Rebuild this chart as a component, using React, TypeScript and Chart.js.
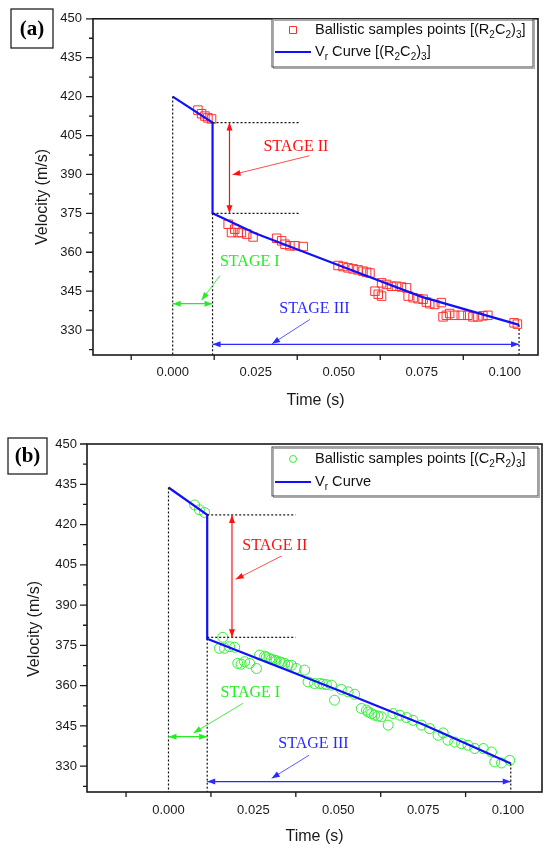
import React, { useEffect, useRef } from "react";
import { Chart, registerables } from "chart.js";

Chart.register(...registerables);

const SANS = "'Liberation Sans', Arial, sans-serif";
const SERIF = "'Liberation Serif', 'Times New Roman', serif";

// axis ticks shared by both panels
const timeTicks = [0, 0.025, 0.05, 0.075, 0.1];
const timeMinorTicks = [-0.0125, 0.0125, 0.0375, 0.0625, 0.0875];
const velocityTicks = [330, 345, 360, 375, 390, 405, 420, 435, 450];
const velocityMinorTicks = [322.5, 337.5, 352.5, 367.5, 382.5, 397.5, 412.5, 427.5, 442.5];
const TIME_MIN = -0.024;
const TIME_MAX = 0.11;
const VEL_MIN = 320.4;
const VEL_MAX = 450;

// (a) (R2C2)3 samples
const samplesTimeA = [
  0.0076, 0.0087, 0.0097, 0.0106, 0.0117, 0.0167, 0.0177, 0.0187, 0.0197, 0.0207,
  0.0223, 0.0242, 0.0313, 0.0328, 0.0338, 0.0353, 0.0368, 0.0393, 0.0498, 0.0513,
  0.0528, 0.0543, 0.0558, 0.0573, 0.0584, 0.0594, 0.0609, 0.0619, 0.0629, 0.0629,
  0.0644, 0.0659, 0.0674, 0.0689, 0.0704, 0.0709, 0.0724, 0.0739, 0.0754, 0.0764,
  0.0774, 0.0789, 0.0809, 0.0814, 0.0824, 0.0834, 0.0849, 0.0869, 0.0889, 0.0904,
  0.0919, 0.0934, 0.0949, 0.1028, 0.1038,
];
const samplesVelA = [
  414.8, 413.4, 412.5, 411.8, 411.4, 370.8, 367.6, 368.9, 367.6, 367.6,
  367.0, 365.9, 365.4, 364.4, 363.1, 362.5, 362.5, 362.2, 354.9, 354.5,
  354.0, 353.6, 353.2, 352.7, 352.3, 352.0, 345.0, 343.8, 343.1, 348.2,
  347.6, 346.9, 346.9, 346.6, 346.3, 343.1, 342.5, 342.1, 341.9, 340.8,
  340.2, 339.9, 340.6, 335.1, 335.7, 336.4, 335.7, 335.7, 335.7, 335.1,
  335.1, 335.5, 335.7, 332.8, 332.3,
];
const curveTimeA = [0, 0.012, 0.012, 0.025, 0.05, 0.075, 0.1043];
const curveVelA = [420, 410, 375, 367.2, 355, 342.8, 332];

// (b) (C2R2)3 samples
const samplesTimeB = [
  0.0077, 0.0091, 0.0106, 0.015, 0.016, 0.0165, 0.018, 0.0195, 0.0204, 0.0214,
  0.0224, 0.0239, 0.0259, 0.0268, 0.0283, 0.0288, 0.0298, 0.0303, 0.0312, 0.0317,
  0.0327, 0.0332, 0.0342, 0.0352, 0.0362, 0.0376, 0.0401, 0.0411, 0.043, 0.0445,
  0.0455, 0.0465, 0.048, 0.0489, 0.0509, 0.0529, 0.0548, 0.0568, 0.0583, 0.0588,
  0.0598, 0.0607, 0.0617, 0.0627, 0.0647, 0.0661, 0.0681, 0.0701, 0.072, 0.0745,
  0.0769, 0.0794, 0.0809, 0.0823, 0.0843, 0.0863, 0.0882, 0.0902, 0.0927, 0.0951,
  0.0961, 0.0981, 0.1005,
];
const samplesVelB = [
  427.3, 425.5, 424.5, 373.9, 378.0, 373.9, 374.5, 374.3, 368.3, 368.0,
  368.9, 368.3, 366.4, 371.4, 371.0, 370.6, 370.1, 369.8, 369.5, 369.3,
  368.9, 368.6, 368.3, 367.6, 367.6, 366.4, 365.8, 361.4, 360.8, 360.8,
  360.6, 360.4, 360.2, 354.6, 358.6, 357.7, 356.8, 351.5, 350.9, 350.2,
  349.6, 349.0, 348.7, 348.4, 345.3, 349.6, 349.0, 348.1, 347.1, 345.3,
  344.0, 341.5, 342.4, 339.7, 339.0, 338.4, 337.8, 336.6, 336.6, 335.3,
  331.6, 331.2, 332.2,
];
const curveTimeB = [0, 0.0114, 0.0114, 0.05, 0.075, 0.1008];
const curveVelB = [433.8, 423.6, 377.5, 358.3, 345.5, 331];

// guide lines, arrows and stage labels in data coordinates [t1, v1, t2, v2]
const guidesA = [
  [0, 420, 0, VEL_MIN],
  [0.012, 375, 0.012, VEL_MIN],
  [0.012, 410, 0.0383, 410],
  [0.012, 375, 0.0383, 375],
  [0.1043, 332, 0.1043, VEL_MIN],
];
const spansA = [
  [0.0171, 410, 0.0171, 375],
  [0, 340.2, 0.012, 340.2],
  [0.012, 324.5, 0.1043, 324.5],
];
const pointersA = [
  [0.0411, 397.2, 0.018, 389.9],
  [0.0142, 351.0, 0.0087, 341.5],
  [0.0413, 334.1, 0.0299, 324.7],
];
const stageTextA = [
  [0.0371, 400.7],
  [0.0232, 356.4],
  [0.0427, 338.3],
];

const guidesB = [
  [0, 433.8, 0, VEL_MIN],
  [0.0114, 377.5, 0.0114, VEL_MIN],
  [0.0114, 423.6, 0.0374, 423.6],
  [0.0114, 378, 0.0374, 378],
  [0.1008, 331, 0.1008, VEL_MIN],
];
const spansB = [
  [0.0187, 423.6, 0.0187, 378],
  [0, 341, 0.0114, 341],
  [0.0114, 324.3, 0.1008, 324.3],
];
const pointersB = [
  [0.0333, 408.3, 0.0198, 399.6],
  [0.0219, 353.4, 0.0074, 342.4],
  [0.0414, 334.1, 0.0304, 325.5],
];
const stageTextB = [
  [0.0313, 412.1],
  [0.0241, 357.5],
  [0.0427, 338.2],
];

const stageNames = ["STAGE II", "STAGE I", "STAGE III"];
const stageColors = ["#ff1010", "#22ee22", "#2a2aff"];
const pointerColors = ["#ff5050", "#44ee44", "#5a5aff"];

// "_x" marks a subscript character
const legendA = ["Ballistic samples points [(R_2C_2)_3]", "V_r Curve [(R_2C_2)_3]"];
const legendB = ["Ballistic samples points [(C_2R_2)_3]", "V_r Curve"];

type Quad = number[];

interface PanelConfig {
  tag: string;
  height: number;
  area: { left: number; top: number; right: number; bottom: number };
  yLabelPad: number;
  xLabelPad: number;
  yTitlePos: [number, number];
  xTitlePad: number;
  tagBox: [number, number, number, number];
  legendBox: [number, number, number, number];
  legendRows: [number, number];
  legendText: string[];
  marker: "rect" | "circle";
  markerColor: string;
  markerRadius: number;
  samplesT: number[];
  samplesV: number[];
  curveT: number[];
  curveV: number[];
  guides: Quad[];
  spans: Quad[];
  pointers: Quad[];
  stageText: Quad[];
}

const drawHead = (ctx: CanvasRenderingContext2D, x1: number, y1: number, x2: number, y2: number) => {
  const a = Math.atan2(y2 - y1, x2 - x1);
  const len = 8;
  const half = 3;
  const bx = x2 - len * Math.cos(a);
  const by = y2 - len * Math.sin(a);
  ctx.beginPath();
  ctx.moveTo(x2, y2);
  ctx.lineTo(bx + half * Math.sin(a), by - half * Math.cos(a));
  ctx.lineTo(bx - half * Math.sin(a), by + half * Math.cos(a));
  ctx.closePath();
  ctx.fill();
};

const drawRich = (ctx: CanvasRenderingContext2D, text: string, x: number, y: number, size: number) => {
  let cx = x;
  let buf = "";
  const flush = () => {
    if (!buf) return;
    ctx.font = `${size}px ${SANS}`;
    ctx.fillText(buf, cx, y);
    cx += ctx.measureText(buf).width;
    buf = "";
  };
  for (let i = 0; i < text.length; i++) {
    if (text[i] === "_" && i + 1 < text.length) {
      flush();
      const ch = text[i + 1];
      ctx.font = `${Math.round(size * 0.66)}px ${SANS}`;
      ctx.fillText(ch, cx, y + size * 0.36);
      cx += ctx.measureText(ch).width;
      i++;
    } else {
      buf += text[i];
    }
  }
  flush();
};

const Panel: React.FC<{ cfg: PanelConfig }> = ({ cfg }) => {
  const canvasRef = useRef<HTMLCanvasElement | null>(null);
  const chartRef = useRef<Chart | null>(null);

  useEffect(() => {
    const ctx = canvasRef.current?.getContext("2d");
    if (!ctx) return;
    if (chartRef.current) chartRef.current.destroy();

    const overlay = {
      id: "overlay",
      afterDatasetsDraw(chart: any) {
        const c: CanvasRenderingContext2D = chart.ctx;
        const sx = chart.scales.x;
        const sy = chart.scales.y;
        const px = (t: number) => sx.getPixelForValue(t);
        const py = (v: number) => sy.getPixelForValue(v);
        c.save();

        // dotted guides
        c.strokeStyle = "#111";
        c.lineWidth = 1.2;
        c.setLineDash([2, 2]);
        cfg.guides.forEach((g) => {
          c.beginPath();
          c.moveTo(px(g[0]), py(g[1]));
          c.lineTo(px(g[2]), py(g[3]));
          c.stroke();
        });
        c.setLineDash([]);

        // double-headed stage spans
        cfg.spans.forEach((s, i) => {
          const x1 = px(s[0]), y1 = py(s[1]), x2 = px(s[2]), y2 = py(s[3]);
          c.strokeStyle = stageColors[i];
          c.fillStyle = stageColors[i];
          c.lineWidth = 1.2;
          c.beginPath();
          c.moveTo(x1, y1);
          c.lineTo(x2, y2);
          c.stroke();
          drawHead(c, x1, y1, x2, y2);
          drawHead(c, x2, y2, x1, y1);
        });

        // pointers from labels
        cfg.pointers.forEach((p, i) => {
          const x1 = px(p[0]), y1 = py(p[1]), x2 = px(p[2]), y2 = py(p[3]);
          c.strokeStyle = pointerColors[i];
          c.fillStyle = stageColors[i];
          c.lineWidth = 1;
          c.beginPath();
          c.moveTo(x1, y1);
          c.lineTo(x2, y2);
          c.stroke();
          drawHead(c, x1, y1, x2, y2);
        });

        // stage labels
        c.font = `16px ${SERIF}`;
        c.textAlign = "center";
        c.textBaseline = "middle";
        cfg.stageText.forEach((s, i) => {
          c.fillStyle = stageColors[i];
          c.fillText(stageNames[i], px(s[0]), py(s[1]));
        });
        c.restore();
      },
      afterDraw(chart: any) {
        const c: CanvasRenderingContext2D = chart.ctx;
        const a = chart.chartArea;
        const sx = chart.scales.x;
        const sy = chart.scales.y;
        c.save();

        // frame
        c.strokeStyle = "#1a1a1a";
        c.lineWidth = 1.6;
        c.strokeRect(a.left, a.top, a.right - a.left, a.bottom - a.top);

        // outward ticks
        c.lineWidth = 1.3;
        c.beginPath();
        velocityTicks.forEach((v) => {
          const y = sy.getPixelForValue(v);
          c.moveTo(a.left, y);
          c.lineTo(a.left - 7, y);
        });
        velocityMinorTicks.forEach((v) => {
          const y = sy.getPixelForValue(v);
          c.moveTo(a.left, y);
          c.lineTo(a.left - 4, y);
        });
        timeMinorTicks.forEach((t) => {
          const x = sx.getPixelForValue(t);
          c.moveTo(x, a.bottom);
          c.lineTo(x, a.bottom + 5);
        });
        c.stroke();

        // y axis title
        c.save();
        c.translate(cfg.yTitlePos[0], cfg.yTitlePos[1]);
        c.rotate(-Math.PI / 2);
        c.fillStyle = "#1a1a1a";
        c.font = `16px ${SANS}`;
        c.textAlign = "center";
        c.textBaseline = "middle";
        c.fillText("Velocity (m/s)", 0, 0);
        c.restore();

        // panel tag
        const [tx, ty, tw, th] = cfg.tagBox;
        c.fillStyle = "#fff";
        c.fillRect(tx, ty, tw, th);
        c.strokeStyle = "#222";
        c.lineWidth = 1.3;
        c.strokeRect(tx, ty, tw, th);
        c.fillStyle = "#000";
        c.font = `bold 21px ${SERIF}`;
        c.textAlign = "center";
        c.textBaseline = "middle";
        c.fillText(cfg.tag, tx + tw / 2, ty + th / 2 + 1);

        // legend
        const [lx, ly, lw, lh] = cfg.legendBox;
        c.fillStyle = "#fff";
        c.fillRect(lx, ly, lw, lh);
        c.strokeStyle = "#aaa";
        c.lineWidth = 1;
        c.strokeRect(lx + 1.5, ly + 1.5, lw, lh);
        c.strokeStyle = "#444";
        c.strokeRect(lx, ly, lw, lh);
        const r1 = ly + cfg.legendRows[0];
        const r2 = ly + cfg.legendRows[1];
        const symX = lx + 21;
        c.strokeStyle = cfg.markerColor;
        c.lineWidth = 1;
        c.beginPath();
        if (cfg.marker === "rect") c.rect(symX - 3.5, r1 - 3.5, 7, 7);
        else c.arc(symX, r1, 3.5, 0, Math.PI * 2);
        c.stroke();
        c.strokeStyle = "#1010ff";
        c.lineWidth = 2.2;
        c.beginPath();
        c.moveTo(lx + 3, r2);
        c.lineTo(lx + 39, r2);
        c.stroke();
        c.fillStyle = "#111";
        c.textAlign = "left";
        c.textBaseline = "middle";
        drawRich(c, cfg.legendText[0], lx + 43, r1, 14.6);
        drawRich(c, cfg.legendText[1], lx + 43, r2, 14.6);
        c.restore();
      },
    };

    const W = 550;
    chartRef.current = new Chart(ctx, {
      type: "scatter",
      data: {
        datasets: [
          {
            label: "Vr Curve",
            data: cfg.curveT.map((t, i) => ({ x: t, y: cfg.curveV[i] })),
            showLine: true,
            borderColor: "#1010ff",
            borderWidth: 2.2,
            pointRadius: 0,
            tension: 0,
          },
          {
            label: "Ballistic samples points",
            data: cfg.samplesT.map((t, i) => ({ x: t, y: cfg.samplesV[i] })),
            pointStyle: cfg.marker,
            pointRadius: cfg.markerRadius,
            pointBorderColor: cfg.markerColor,
            pointBackgroundColor: "rgba(0,0,0,0)",
            pointBorderWidth: 1,
          },
        ],
      },
      options: {
        animation: false,
        responsive: false,
        devicePixelRatio: 1,
        layout: {
          padding: {
            left: 0,
            top: cfg.area.top,
            right: W - cfg.area.right,
            bottom: 0,
          },
        },
        plugins: {
          legend: { display: false },
          tooltip: { enabled: false },
        },
        scales: {
          x: {
            type: "linear",
            min: TIME_MIN,
            max: TIME_MAX,
            afterBuildTicks: (s: any) => {
              s.ticks = timeTicks.map((value) => ({ value }));
            },
            afterFit: (s: any) => {
              s.height = cfg.height - cfg.area.bottom;
            },
            grid: { display: false, drawTicks: false },
            border: { display: false },
            ticks: {
              padding: cfg.xLabelPad,
              color: "#1a1a1a",
              font: { family: SANS, size: 13 },
              maxRotation: 0,
              autoSkip: false,
              callback: (v: any) => Number(v).toFixed(3),
            },
            title: {
              display: true,
              text: "Time (s)",
              color: "#1a1a1a",
              font: { family: SANS, size: 16 },
              padding: { top: 0, bottom: cfg.xTitlePad },
            },
          },
          y: {
            type: "linear",
            min: VEL_MIN,
            max: VEL_MAX,
            afterBuildTicks: (s: any) => {
              s.ticks = velocityTicks.map((value) => ({ value }));
            },
            afterFit: (s: any) => {
              s.width = cfg.area.left;
            },
            grid: { display: false, drawTicks: false },
            border: { display: false },
            ticks: {
              padding: cfg.yLabelPad,
              color: "#1a1a1a",
              font: { family: SANS, size: 13 },
              autoSkip: false,
              callback: (v: any) => String(v),
            },
            title: { display: false },
          },
        },
      },
      plugins: [overlay],
    });

    return () => {
      if (chartRef.current) {
        chartRef.current.destroy();
        chartRef.current = null;
      }
    };
  }, []);

  return (
    <canvas
      ref={canvasRef}
      width={550}
      height={cfg.height}
      style={{ display: "block", width: 550, height: cfg.height }}
    />
  );
};

const panelA: PanelConfig = {
  tag: "(a)",
  height: 420,
  area: { left: 93, top: 16, right: 538, bottom: 355 },
  yLabelPad: 11,
  xLabelPad: 10,
  yTitlePos: [42.5, 197],
  xTitlePad: 10,
  tagBox: [11, 9, 42, 39],
  legendBox: [272, 19, 261, 48],
  legendRows: [11, 33],
  legendText: legendA,
  marker: "rect",
  markerColor: "#ff3030",
  markerRadius: 6,
  samplesT: samplesTimeA,
  samplesV: samplesVelA,
  curveT: curveTimeA,
  curveV: curveVelA,
  guides: guidesA,
  spans: spansA,
  pointers: pointersA,
  stageText: stageTextA,
};

const panelB: PanelConfig = {
  tag: "(b)",
  height: 434,
  area: { left: 87, top: 24, right: 542, bottom: 372 },
  yLabelPad: 10,
  xLabelPad: 11,
  yTitlePos: [35, 209],
  xTitlePad: 8,
  tagBox: [8, 18, 39, 36],
  legendBox: [272, 27, 266, 49],
  legendRows: [12, 35],
  legendText: legendB,
  marker: "circle",
  markerColor: "#33ee33",
  markerRadius: 5,
  samplesT: samplesTimeB,
  samplesV: samplesVelB,
  curveT: curveTimeB,
  curveV: curveVelB,
  guides: guidesB,
  spans: spansB,
  pointers: pointersB,
  stageText: stageTextB,
};

const App: React.FC = () => (
  <div style={{ position: "absolute", left: 0, top: 0, width: 550, height: 854, background: "#fff" }}>
    <Panel cfg={panelA} />
    <Panel cfg={panelB} />
  </div>
);

export default App;
